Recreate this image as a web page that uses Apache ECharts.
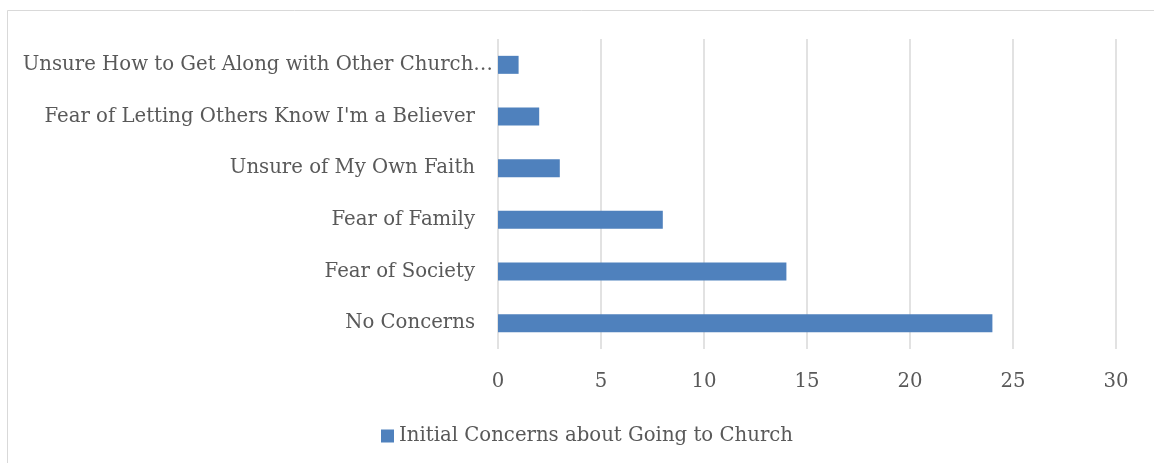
<!DOCTYPE html>
<html>
<head>
<meta charset="utf-8">
<script src="https://cdn.jsdelivr.net/npm/echarts@6/dist/echarts.min.js"></script>
<style>
  html, body { margin: 0; padding: 0; background: #ffffff; }
  #chart { width: 1154px; height: 463px; }
</style>
</head>
<body>
<div id="chart"></div>
<script>
// Categories listed bottom to top, as the category axis draws them
const categories = [
  'No Concerns',
  'Fear of Society',
  'Fear of Family',
  'Unsure of My Own Faith',
  "Fear of Letting Others Know I'm a Believer",
  'Unsure How to Get Along with Other Church\u2026'
];
const counts = [24, 14, 8, 3, 2, 1];
const seriesName = 'Initial Concerns about Going to Church';
const xTicks = { min: 0, max: 30, interval: 5 };

const FONT = '"DejaVu Serif", "Liberation Serif", serif';
const FONT_SIZE = 19.7;
const TEXT = '#595959';
const GRID = '#d9d9d9';
const BAR = '#4f81bd';

// The truncated top label runs a little further right than the others
const categoryData = categories.map(function (c, i) {
  return i === categories.length - 1
    ? { value: c, textStyle: { padding: [0, -18, 0, 0] } }
    : c;
});

const chart = echarts.init(document.getElementById('chart'), null, { renderer: 'canvas' });
chart.setOption({
  backgroundColor: '#ffffff',
  animation: false,
  graphic: [{
    type: 'rect',
    shape: { x: 7.5, y: 10.5, width: 1160, height: 470 },
    style: { fill: 'none', stroke: '#d9d9d9', lineWidth: 1 },
    silent: true
  }],
  grid: { left: 498, right: 38, top: 39, bottom: 114, containLabel: false },
  legend: {
    data: [seriesName],
    left: 376,
    top: 421,
    itemWidth: 13,
    itemHeight: 13,
    itemGap: 5,
    icon: 'rect',
    textStyle: { fontFamily: FONT, fontSize: FONT_SIZE, color: TEXT, padding: [0, 0, 0, 0] }
  },
  xAxis: {
    type: 'value',
    min: xTicks.min,
    max: xTicks.max,
    interval: xTicks.interval,
    axisLine: { show: false },
    axisTick: { show: false },
    splitLine: { show: true, lineStyle: { color: GRID, width: 1.5 } },
    axisLabel: { fontFamily: FONT, fontSize: FONT_SIZE, color: TEXT, margin: 23 }
  },
  yAxis: {
    type: 'category',
    data: categoryData,
    axisLine: { show: false },
    axisTick: { show: false },
    axisLabel: { fontFamily: FONT, fontSize: FONT_SIZE, color: TEXT, margin: 23 }
  },
  series: [{
    name: seriesName,
    type: 'bar',
    data: counts,
    barWidth: 18,
    itemStyle: { color: BAR }
  }]
});
</script>
</body>
</html>
